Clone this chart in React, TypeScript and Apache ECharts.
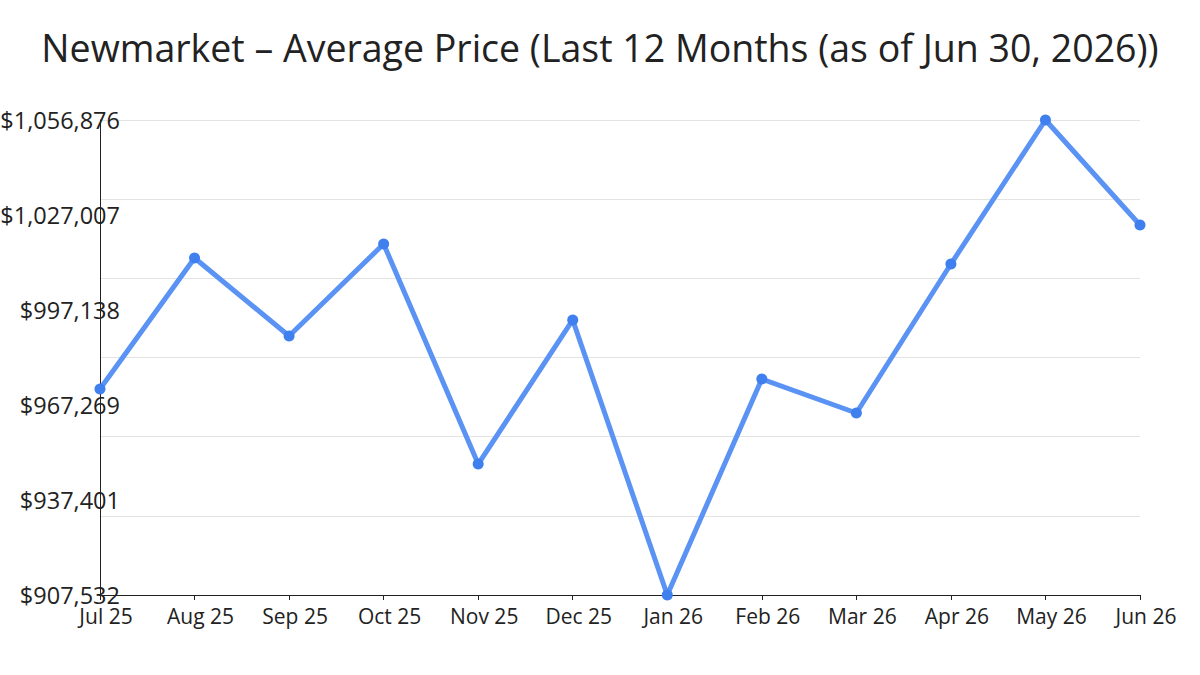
import React, { useEffect, useRef } from "react";
import * as echarts from "echarts";

const TITLE = "Newmarket – Average Price (Last 12 Months (as of Jun 30, 2026))";
const categories = ["Jul 25", "Aug 25", "Sep 25", "Oct 25", "Nov 25", "Dec 25", "Jan 26", "Feb 26", "Mar 26", "Apr 26", "May 26", "Jun 26"];
const avgPrice = [972300, 1013500, 988960, 1017900, 948700, 994000, 907532, 975440, 964750, 1011600, 1056876, 1023860];
const yTickLabels = ["$907,532", "$937,401", "$967,269", "$997,138", "$1,027,007", "$1,056,876"];
const Y_MIN = 907532;
const Y_MAX = 1056876;
const GRID_DIVISIONS = 6;

export default function App() {
  const ref = useRef<HTMLDivElement>(null);
  useEffect(() => {
    document.body.style.margin = "0";
    const chart = echarts.init(ref.current!, null, { renderer: "svg" });
    const font = "'Open Sans', sans-serif";
    chart.setOption({
      animation: false,
      backgroundColor: "#ffffff",
      title: {
        text: TITLE,
        left: "center",
        top: 23,
        textStyle: { fontFamily: font, fontSize: 37.5, fontWeight: "normal", color: "#222222" },
      },
      grid: { left: 100, right: 60, top: 120, bottom: 80, containLabel: false, outerBoundsMode: "none" },
      xAxis: {
        type: "category",
        data: categories,
        boundaryGap: false,
        axisLine: { show: true, lineStyle: { color: "#222222", width: 1 } },
        axisTick: { show: true, alignWithLabel: true, length: 5, lineStyle: { color: "#222222" } },
        axisLabel: { fontFamily: font, fontSize: 21, color: "#222222", margin: 10, interval: 0, padding: [0, 0, 0, 12] },
        splitLine: { show: false },
      },
      yAxis: [
        {
          type: "value",
          min: Y_MIN,
          max: Y_MAX,
          axisLine: { show: true, lineStyle: { color: "#222222", width: 1 } },
          axisTick: { show: false },
          axisLabel: { show: false },
          splitLine: { show: false },
        },
        {
          type: "value",
          position: "left",
          min: 0,
          max: yTickLabels.length - 1,
          interval: 1,
          axisLine: { show: false },
          axisTick: { show: false },
          splitLine: { show: false },
          axisLabel: {
            fontFamily: font,
            fontSize: 23.5,
            color: "#222222",
            margin: -20,
            align: "right",
            padding: [0, 0, 5, 0],
            formatter: (v: number) => yTickLabels[Math.round(v)] ?? "",
          },
        },
        {
          type: "value",
          position: "right",
          min: 0,
          max: GRID_DIVISIONS,
          interval: 1,
          axisLine: { show: false },
          axisTick: { show: false },
          axisLabel: { show: false },
          splitLine: { show: true, lineStyle: { color: "#e3e3e3", width: 1 } },
        },
      ],
      series: [
        {
          type: "line",
          yAxisIndex: 0,
          data: avgPrice,
          symbol: "circle",
          symbolSize: 11,
          lineStyle: { color: "#5a93f3", width: 5 },
          itemStyle: { color: "#3f80ee" },
          z: 5,
        },
      ],
    });
    return () => chart.dispose();
  }, []);
  return <div ref={ref} style={{ width: 1200, height: 675 }} />;
}
